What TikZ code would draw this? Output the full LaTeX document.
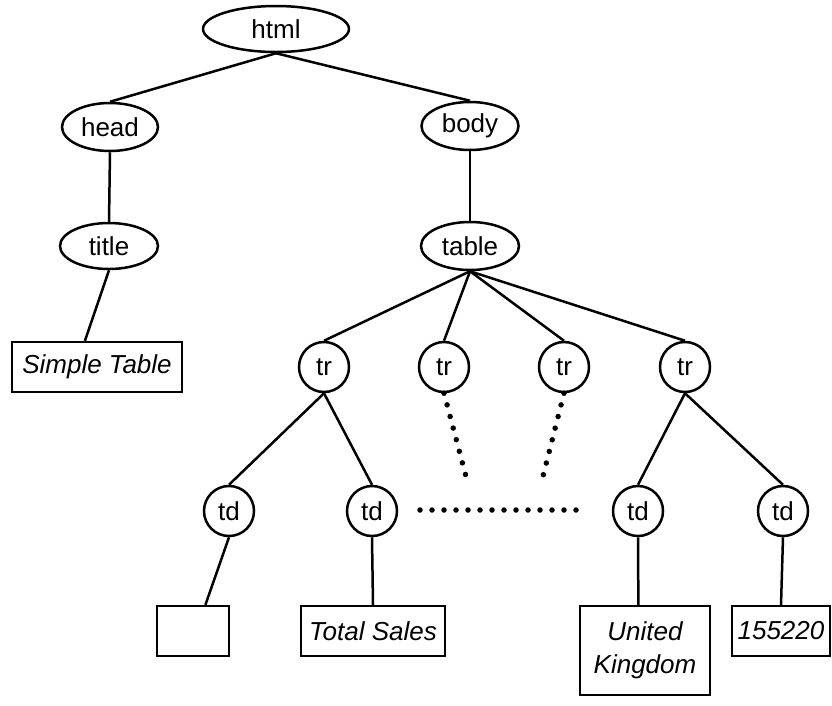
\documentclass[tikz,border=0pt]{standalone}
\usepackage{fontspec}
\setmainfont{Liberation Sans}
\usetikzlibrary{shapes.geometric,calc}
\begin{document}
\begin{tikzpicture}[x=1pt,y=-1pt,
  every node/.style={font=\fontsize{26}{33}\selectfont},
  tag/.style={draw,ellipse,line width=2.5pt,inner sep=0pt},
  cell/.style={draw,circle,line width=2.5pt,inner sep=0pt,minimum size=50pt},
  leaf/.style={draw,rectangle,line width=2.4pt,inner sep=0pt,minimum height=50pt,
    font=\fontsize{26}{33}\selectfont\itshape,align=center},
  edge/.style={line width=2.5pt},
  dots/.style={line width=5.5pt,line cap=round,dash pattern=on 0pt off 12pt}]
  \useasboundingbox (0,0) rectangle (832,705);

  % element nodes
  \node[tag,minimum width=146pt,minimum height=46pt] (html) at (276,29) {html};
  \node[tag,minimum width=96pt,minimum height=48pt] (head) at (110,127) {head};
  \node[tag,minimum width=97pt,minimum height=48pt] (body) at (470,126) {body};
  \node[tag,minimum width=98pt,minimum height=46pt] (title) at (109,246) {title};
  \node[tag,minimum width=98pt,minimum height=48pt] (table) at (470,246) {table};

  % rows
  \node[cell] (tr1) at (324,367) {tr};
  \node[cell] (tr2) at (444,367) {tr};
  \node[cell] (tr3) at (564,367) {tr};
  \node[cell] (tr4) at (685,367) {tr};

  % cells
  \node[cell] (td1) at (229,511) {td};
  \node[cell] (td2) at (372,511) {td};
  \node[cell] (td3) at (638,511) {td};
  \node[cell] (td4) at (783,511) {td};

  % text leaves
  \node[leaf,minimum width=170pt] (st) at (97,367) {Simple Table};
  \node[leaf,minimum width=72pt] (empty) at (193,631) {};
  \node[leaf,minimum width=144pt] (ts) at (373,631) {Total Sales};
  \node[leaf,minimum width=130pt,minimum height=89pt] (uk) at (645,650.5) {United\\Kingdom};
  \node[leaf,minimum width=98pt] (num) at (781,631) {155220};

  % tree edges
  \draw[edge] (html.south) -- (head.north);
  \draw[edge] (html.south) -- (body.north);
  \draw[edge] (head.south) -- (title.north);
  \draw[edge] (body.south) -- (table.north);
  \draw[edge] (title.south) -- ($(st.north west)!0.43!(st.north east)$);
  \foreach \r in {tr1,tr2,tr3,tr4}
    \draw[edge] (table.south) -- (\r.north);
  \draw[edge] (tr1.south) -- (td1.north);
  \draw[edge] (tr1.south) -- (td2.north);
  \draw[edge] (tr4.south) -- (td3.north);
  \draw[edge] (tr4.south) -- (td4.north);
  \draw[edge] (td1.south) -- ($(empty.north west)!0.667!(empty.north east)$);
  \draw[edge] (td2.south) -- (ts.north);
  \draw[edge] (td3.south) -- ($(uk.north west)!0.45!(uk.north east)$);
  \draw[edge] (td4.south) -- (num.north);

  % elided rows and cells
  \coordinate (d1) at (468,484);
  \coordinate (d2) at (541,484);
  \coordinate (h1) at (420,510);
  \coordinate (h2) at (577,510);
  \draw[dots] (tr2.south) -- (d1);
  \draw[dots] (tr3.south) -- (d2);
  \draw[dots] (h1) -- (h2);
\end{tikzpicture}
\end{document}
